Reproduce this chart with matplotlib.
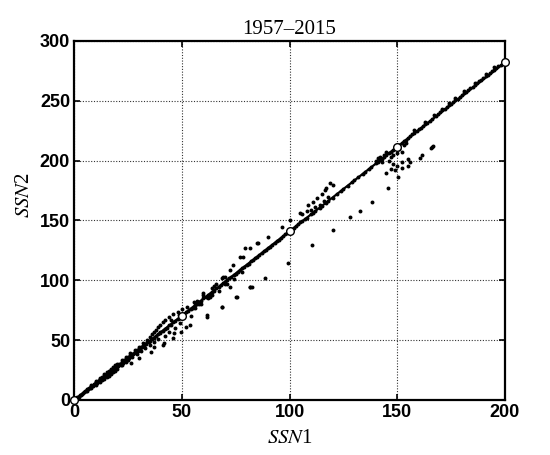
import matplotlib
matplotlib.use("Agg")
import matplotlib.pyplot as plt

plt.rcParams['mathtext.fontset'] = 'stix'

title = "1957–2015"
xlabel = r"$\mathit{SSN}$1"
ylabel = r"$\mathit{SSN}$2"
xticks = [0, 50, 100, 150, 200]
yticks = [0, 50, 100, 150, 200, 250, 300]

# fitted line and its marked points
fit_x = [0, 50, 100, 150, 200]
fit_y = [0, 70.5, 141, 211.5, 282]

# scatter points (SSN1, SSN2)
pts = [
    # dense band 0-40
    (1,1.5),(1.5,2.3),(2,2.6),(2.5,3.8),(3,4.1),(3.5,5.2),(4,5.5),(4.5,6.6),(5,7.2),(5.5,7.6),
    (6,8.8),(6.5,9.0),(7,10.2),(7.5,10.3),(8,11.6),(8.5,11.8),(9,13.1),(9.5,13.0),(10,14.6),(10.5,14.4),
    (11,16.2),(11.5,15.8),(12,17.5),(12.5,17.1),(13,19.0),(13.5,18.6),(14,20.3),(14.5,19.8),(15,21.9),(15.5,21.2),
    (16,23.4),(16.5,22.6),(17,24.8),(17.5,24.1),(18,26.2),(18.5,25.4),(19,27.6),(19.5,26.9),(20,29.0),(20.5,28.3),
    (21,30.4),(21.5,29.6),(22,31.8),(22.5,31.2),(23,33.1),(23.5,32.6),(24,34.6),(24.5,33.9),(25,36.0),(25.5,35.4),
    (26,37.2),(26.5,36.9),(27,38.7),(27.5,38.2),(28,39.9),(28.5,39.6),(29,41.4),(29.5,41.0),(30,42.6),(30.5,42.4),
    (31,44.0),(31.5,43.9),(32,45.2),(32.5,45.6),(33,46.7),(33.5,47.0),(34,48.1),(34.5,48.5),(35,49.3),(36,51.0),
    (37,52.1),(38,53.6),(39,55.1),(40,56.3),
    # upper sub-band
    (8,12.8),(10,15.6),(12,18.6),(14,21.6),(15,23.2),(16,24.6),(17,26.0),(18,27.6),(19,29.0),(20,30.4),
    (22,33.5),(24,36.2),(26,39.0),(28,41.7),(30,44.3),(32,47.2),(34,50.5),(35,52.5),(36,54.8),(37,56.5),
    (38,58.8),(39,61.0),(40,63.0),(41,65.0),(42,66.5),(44,69.0),(45,66.8),(46,71.5),(48,73.8),(48.7,71.0),(50,76.0),
    # lower sub-band
    (6,7.8),(8,10.0),(10,12.5),(12,15.0),(13,16.5),(14,17.8),(15,19.0),(16,20.2),(17,21.8),(18,23.5),
    (19,24.6),(20,26.0),(22,28.8),(24,31.5),(25,33.2),(26.3,30.6),(27,36.0),(29,38.5),(30.2,34.8),(31,41.0),
    (33,43.2),(35,46.0),(35.6,40.4),(37,48.5),(37.1,44.6),(39,51.0),(41,46.0),(41.8,47.3),(42,53.5),(44,56.5),
    (46,51.8),(46.4,55.7),(47,60.5),(49,64.0),(49.5,57.0),(52,61.3),(53.8,62.7),(54,70.0),(61.6,69.6),
    # main line 40-100
    (40,57.0),(41,57.5),(42,59.6),(43,60.2),(44,62.4),(45,63.0),(46,65.2),(47,66.0),(48,67.9),(49,68.8),
    (50,70.8),(51,71.5),(52,73.6),(53,74.5),(54,76.4),(55,77.2),(56,79.3),(57,80.0),(58,82.0),(59,83.0),
    (60,84.8),(61,85.9),(62,87.6),(63,88.6),(64,90.5),(65,91.4),(66,93.3),(67,94.6),(68,96.0),(69,97.5),
    (70,98.9),(71,100.0),(72,101.8),(73,102.6),(74,104.5),(75,105.6),(76,107.3),(77,108.6),(78,110.2),(79,111.3),
    (80,113.0),(81,114.0),(82,115.8),(83,116.9),(84,118.6),(85,119.8),(86,121.4),(87,122.5),(88,124.2),(89,125.3),
    (90,127.1),(91,128.2),(92,129.9),(93,131.0),(94,132.7),(95,133.9),(96,135.5),(97,136.7),(98,138.3),(99,139.5),
    # scatter 50-100
    (52.3,78.0),(55.4,82.1),(60.0,89.1),(63.9,93.3),(68.5,101.7),(72.4,108.6),(77.0,119.2),(79.4,126.7),
    (85.5,130.9),(69.3,103.0),(73.9,112.8),(78.3,119.7),(81.7,126.7),(84.8,130.9),(90.2,136.4),(96.4,144.8),
    (68.5,77.4),(75.2,85.8),(81.7,94.2),(72.4,94.7),(61.6,71.0),(68.5,78.0),(75.5,86.3),(82.5,94.7),
    (88.6,101.7),(81.7,94.7),(66,96.5),(70,97.0),(58,80.5),(62,85.5),(57,83.0),(64,88.0),
    (56,76.5),(59,80.0),(63,86.0),(67,91.0),(71,96.5),(74,101.0),(78,107.0),(60,87.5),(65,95.0),(70,102.5),
    # main line 100-150
    (100,141.0),(101,142.0),(102,143.6),(103,145.5),(104,146.8),(105,148.3),(106,149.4),(107,151.0),(108,152.4),
    (110,155.2),(111,156.4),(112,158.2),(114,160.8),(115,162.4),(117,164.9),(118,166.6),(120,169.1),(122,172.2),
    (124,174.8),(125,176.5),(127,179.0),(129,182.1),(130,183.4),(132,186.3),(134,189.0),(135,190.5),(137,193.3),
    (138,194.6),(140,197.6),(141,198.9),(142,200.5),(143,201.7),(144,203.3),(145,204.5),(146,206.1),(147,207.4),
    (148,208.8),(149,210.2),
    # upper ridge 100-120
    (100.2,150.4),(104.9,156.0),(108.7,162.9),(112.6,168.5),(116.5,175.4),(120.3,179.6),(117,177.0),(119,181.0),
    (115,172.0),(111,165.5),(106,155.0),(108,158.0),(110,158.5),(112,161.0),(114,163.0),(116,166.0),(118,170.0),
    # lower outliers
    (99.4,114.2),(110.3,129.5),(120.3,142.0),(128.1,152.6),(132.7,158.1),(138.1,165.7),(145.9,176.9),
    (150.5,186.0),(145,190.0),(147,193.0),(149,192.0),(152.1,193.5),(155.1,195.5),(160.6,201.9),(161.3,204.7),
    (166,211.0),(166.5,212.0),(165.5,210.5),(150,195.5),(148,197.0),(152,199.0),(155,201.0),(156,199.0),
    # cluster 140-155
    (140,200.0),(141,202.0),(142,203.0),(143,199.0),(144,205.0),(145,207.0),(146,200.0),(147,203.0),(148,205.0),
    (150,206.0),(151,210.0),(153,213.0),(152,207.0),(154,215.0),
    # main line 150-200
    (151,213.0),(152,214.8),(153,216.3),(154,217.5),(155,219.0),(156,220.6),(157,221.9),(158,223.4),(159,224.8),
    (160,226.3),(161,227.4),(162,229.0),(163,230.3),(164,231.8),(165,233.2),(166,234.7),(168,237.6),(169,239.0),
    (170,240.4),(171,241.9),(172,243.4),(173,244.6),(174,246.2),(175,247.6),(176,249.0),(177,250.5),(178,251.8),
    (179,253.3),(180,254.8),(181,256.1),(182,257.6),(183,258.8),(184,260.4),(185,261.9),(186,263.2),(187,264.6),
    (188,266.2),(189,267.6),(190,269.0),(191,270.3),(192,271.8),(193,273.2),(194,274.7),(195,276.1),(196,277.4),
    (197,278.9),(198,280.2),(199,281.6),
    (158,225.5),(163,232.5),(167,238.5),(171,243.5),(174,248.0),(177,252.5),(181,258.0),(186,265.0),(191,272.0),(195,278.0),
]
ssn1 = [p[0] for p in pts]
ssn2 = [p[1] for p in pts]

fig = plt.figure(figsize=(5.5, 4.55), dpi=100)
ax = fig.add_axes([0.135, 0.121, 0.783, 0.789])

ax.scatter(ssn1, ssn2, s=8, c='black', linewidths=0, zorder=3)
ax.plot(fit_x, fit_y, color='black', lw=1.6, zorder=4)
ax.plot(fit_x, fit_y, ls='none', marker='o', ms=5.5, mfc='white', mec='black', mew=1.0,
        zorder=5, clip_on=False)

ax.set_xlim(0, 200)
ax.set_ylim(0, 300)
ax.set_xticks(xticks)
ax.set_yticks(yticks)
ax.grid(True, color='#333333', ls=(0, (1, 1.5)), lw=0.8)
ax.tick_params(direction='in', length=4, width=1.2, top=True, right=True, pad=3,
               labelsize=13)
for lab in ax.get_xticklabels() + ax.get_yticklabels():
    lab.set_fontweight('bold')
    lab.set_family('Liberation Sans')
for s in ax.spines.values():
    s.set_linewidth(1.6)

ax.set_title(title, fontsize=15, family='Liberation Serif', pad=5)
ax.set_xlabel(xlabel, fontsize=15, family='Liberation Serif', labelpad=6)
ax.set_ylabel(ylabel, fontsize=15, family='Liberation Serif')
ax.yaxis.set_label_coords(-0.093, 0.57)

fig.savefig("out.png", dpi=100)
